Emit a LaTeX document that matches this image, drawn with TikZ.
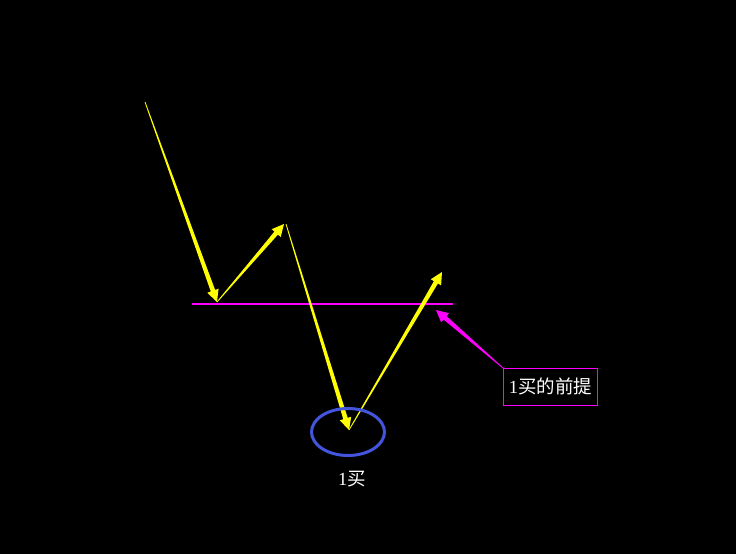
\documentclass[tikz,border=0pt]{standalone}
\usepackage{fontspec}
\newfontfamily\cjk{Noto Sans CJK SC}
\newfontfamily\serifone{Liberation Serif}
\usetikzlibrary{calc,shapes.geometric}
\definecolor{yel}{HTML}{FFFF00}
\definecolor{magc}{HTML}{FF00FF}
\definecolor{blu}{HTML}{4455DD}
\newcommand\taperarrow[3]{%
  \fill[fill=#3] ($(#1)!0.4pt!90:(#2)$) -- ($($(#2)!12pt!(#1)$)!2.3pt!-90:(#1)$)
     -- ($($(#2)!12pt!(#1)$)!6pt!-90:(#1)$) -- (#2)
     -- ($($(#2)!12pt!(#1)$)!6pt!90:(#1)$)
     -- ($($(#2)!12pt!(#1)$)!2.3pt!90:(#1)$) -- ($(#1)!0.4pt!-90:(#2)$) -- cycle;}
\begin{document}
\begin{tikzpicture}[x=1pt,y=-1pt,
  lbl/.style={text=white,font=\cjk\fontsize{18.5}{22}\selectfont,inner sep=3pt}]
\fill[black] (0,0) rectangle (736,554);
\useasboundingbox (0,0) rectangle (736,554);
\coordinate (p0) at (145,102);
\coordinate (p1) at (217,302);
\coordinate (p2) at (284,224);
\coordinate (p2b) at (286,224);
\coordinate (p3) at (349,430);
\coordinate (p4) at (442,272);
\coordinate (ml) at (192,303.5);
\coordinate (mr) at (453,303.5);
\coordinate (mt) at (436,310);
\fill[fill=magc] ($(ml)+(0,-1)$) rectangle ($(mr)+(0,1)$);
\taperarrow{p0}{p1}{yel}
\taperarrow{p1}{p2}{yel}
\taperarrow{p2b}{p3}{yel}
\taperarrow{p3}{p4}{yel}
\node[draw=blu,line width=3pt,ellipse,minimum width=73pt,minimum height=47pt,inner sep=0pt] (circ) at (348,432) {};
\node[lbl] (buy) at (352,479) {{\serifone 1}买};
\node[lbl,draw=magc,line width=0.8pt,anchor=north west,minimum width=94pt,minimum height=37pt,inner sep=1pt] (box) at (503,368) {{\serifone 1}买的前提};
\coordinate (bs) at (box.north west);
\taperarrow{bs}{mt}{magc}
\end{tikzpicture}
\end{document}
